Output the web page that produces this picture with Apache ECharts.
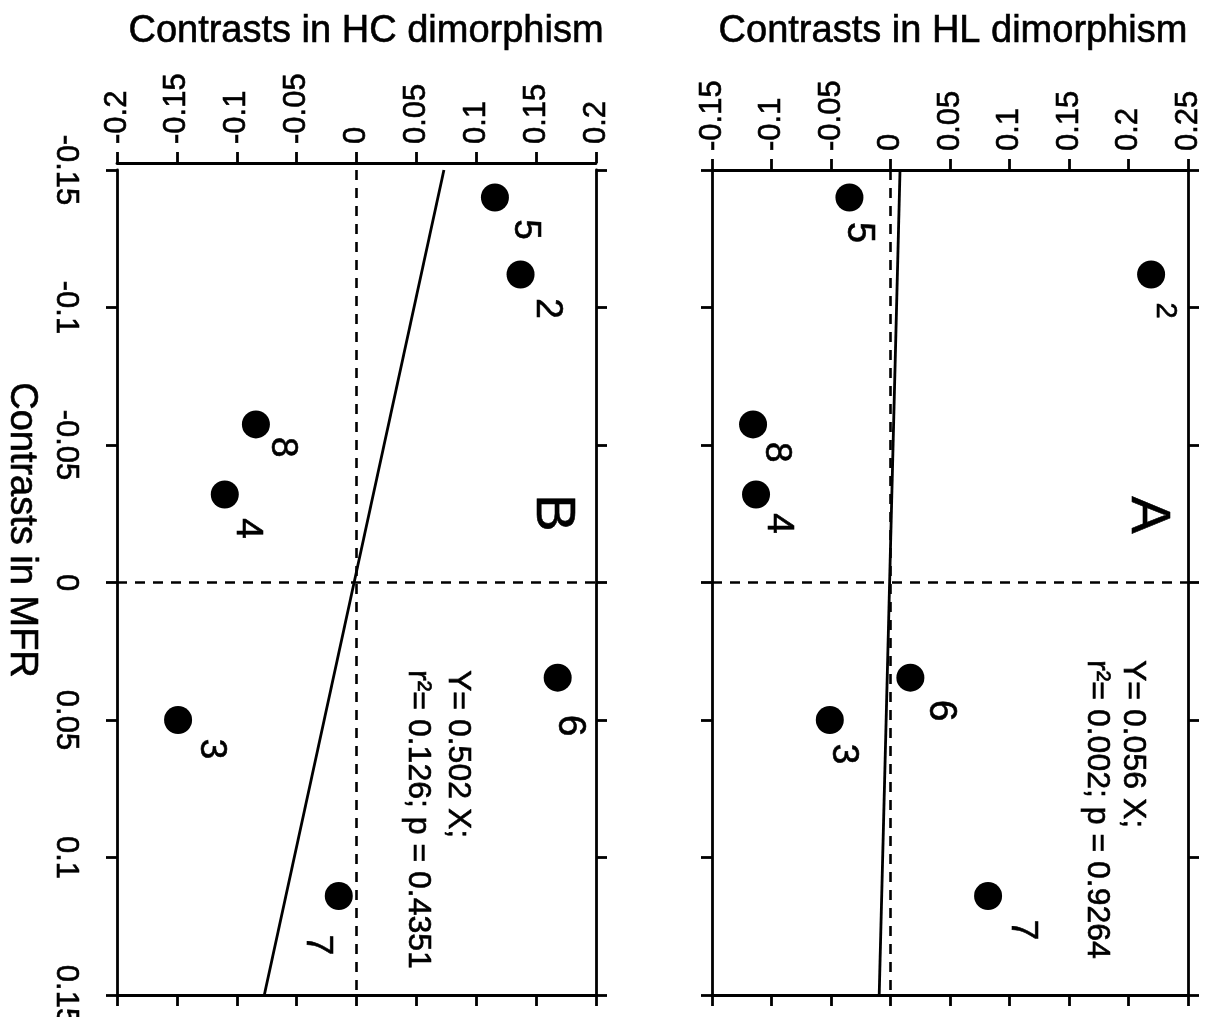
<!DOCTYPE html>
<html><head><meta charset="utf-8">
<script src="https://cdn.jsdelivr.net/npm/echarts@6/dist/echarts.min.js"></script>
<style>html,body{margin:0;padding:0;background:#fff}#c{width:1215px;height:1017px}</style>
</head><body><div id="c"></div>
<script>
// ---- data ----
const speciesLabels = ['2', '3', '4', '5', '6', '7', '8'];
const mfrContrast  = [-0.112, 0.050, -0.032, -0.140, 0.0346, 0.114, -0.0575];
const hlContrast   = [0.219, -0.051, -0.113, -0.0345, 0.0167, 0.082, -0.1155];
const hcContrast   = [0.137, -0.149, -0.110, 0.1156, 0.168, -0.0148, -0.084];
// regression lines, end points
const fitMfr = [-0.15, 0.15];
const fitHl  = [0.008, -0.0095];
const fitHc  = [0.073, -0.077];
const mfrTicks = [-0.15, -0.1, -0.05, 0, 0.05, 0.1, 0.15];
const hlTicks  = [-0.15, -0.1, -0.05, 0, 0.05, 0.1, 0.15, 0.2, 0.25];
const hcTicks  = [-0.2, -0.15, -0.1, -0.05, 0, 0.05, 0.1, 0.15, 0.2];
const statsA = ['Y= 0.056 X;', 'r\u00b2= 0.002; p = 0.9264'];
const statsB = ['Y= 0.502 X;', 'r\u00b2= 0.126; p = 0.4351'];

// ---- styles (screen offsets of the number labels, px right / px down) ----
const labelShiftA = [[14, 36], [13, 34], [22, 29], [9, 35], [30, 33], [34, 34], [23, 28]];
const labelShiftB = [[27, 34], [33, 29], [22, 34], [30, 32], [12, 48], [-22, 49], [26, 23]];
const labelSizeA  = [29, 37, 37, 38, 39, 37, 37];
const labelSizeB  = [37, 37, 37, 37, 39, 37, 37];

const FONT = '"Liberation Sans", Arial, Helvetica, sans-serif';
const INK = '#000';
const THICK = { textBorderColor: INK, textBorderWidth: 0.6 };

function points(dim, shifts, sizes) {
  return speciesLabels.map((s, i) => ({
    name: s,
    value: [dim[i], mfrContrast[i]],
    label: {
      // label rotated 90deg clockwise: local offset [along text, across text]
      offset: [shifts[i][1], -shifts[i][0]],
      fontSize: sizes[i]
    }
  }));
}
function fitLine(dim) {
  return fitMfr.map((m, i) => [dim[i], m]);
}

const tickStyle = { show: true, inside: false, length: 11, lineStyle: { color: INK, width: 2.8 } };
const lineStyle = { show: true, onZero: false, lineStyle: { color: INK, width: 2.8 } };
const labelStyle = Object.assign({ color: INK, fontSize: 31, fontFamily: FONT, rotate: -90 }, THICK);

function hAxis(grid, pos, min, max, show, offset) {
  return {
    type: 'value', gridIndex: grid, position: pos, min: min, max: max, interval: 0.05,
    offset: offset || 0,
    axisLine: lineStyle, axisTick: tickStyle, splitLine: { show: false },
    axisLabel: Object.assign({ show: show, margin: 19 }, labelStyle)
  };
}
function vAxis(grid, pos, show) {
  return {
    type: 'value', gridIndex: grid, position: pos, inverse: true,
    min: mfrTicks[0], max: mfrTicks[mfrTicks.length - 1], interval: 0.05,
    axisLine: lineStyle, axisTick: tickStyle, splitLine: { show: false },
    axisLabel: Object.assign({ show: show, margin: 36 }, labelStyle)
  };
}

const zeroLines = {
  symbol: 'none', silent: true, label: { show: false },
  lineStyle: { color: INK, width: 2.6, type: [10, 8], opacity: 1 },
  data: [{ xAxis: 0 }, { yAxis: 0 }]
};

function scatter(xi, yi, dim, shifts, sizes) {
  return {
    type: 'scatter', xAxisIndex: xi, yAxisIndex: yi, z: 5,
    symbol: 'circle', symbolSize: 28,
    itemStyle: { color: INK, opacity: 1 },
    label: Object.assign({
      show: true, position: 'inside', rotate: -90, formatter: '{b}',
      color: INK, fontFamily: FONT, align: 'center', verticalAlign: 'middle'
    }, THICK),
    data: points(dim, shifts, sizes)
  };
}
function fit(xi, yi, dim) {
  return {
    type: 'line', xAxisIndex: xi, yAxisIndex: yi, z: 3,
    showSymbol: false, symbol: 'none',
    lineStyle: { color: INK, width: 2.8, opacity: 1 },
    data: fitLine(dim),
    markLine: zeroLines
  };
}

function textStyle(text, size, align) {
  return Object.assign({ text: text, fill: INK, font: size + 'px ' + FONT, align: align, verticalAlign: 'middle', stroke: INK, lineWidth: 0.6 });
}
function rotText(x, y, text, size, align) {
  return { type: 'text', x: x, y: y, rotation: -Math.PI / 2, style: textStyle(text, size, align) };
}

const chart = echarts.init(document.getElementById('c'), null, { renderer: 'canvas' });
chart.setOption({
  animation: false,
  backgroundColor: '#fff',
  grid: [
    { left: 712, width: 476, top: 170, height: 825, containLabel: false, outerBoundsMode: 'none' },
    { left: 117, width: 479, top: 170, height: 825, containLabel: false, outerBoundsMode: 'none' }
  ],
  xAxis: [
    hAxis(0, 'top', hlTicks[0], hlTicks[hlTicks.length - 1], true),
    hAxis(0, 'bottom', hlTicks[0], hlTicks[hlTicks.length - 1], false),
    hAxis(1, 'top', hcTicks[0], hcTicks[hcTicks.length - 1], true, 7),
    hAxis(1, 'bottom', hcTicks[0], hcTicks[hcTicks.length - 1], false)
  ],
  yAxis: [
    vAxis(0, 'left', false),
    vAxis(0, 'right', false),
    vAxis(1, 'left', true),
    vAxis(1, 'right', false)
  ],
  series: [
    fit(0, 0, fitHl),
    scatter(0, 0, hlContrast, labelShiftA, labelSizeA),
    fit(2, 2, fitHc),
    scatter(2, 2, hcContrast, labelShiftB, labelSizeB)
  ],
  graphic: [
    { type: 'text', x: 953, y: 32, style: textStyle('Contrasts in HL dimorphism', 38, 'center') },
    { type: 'text', x: 366, y: 32, style: textStyle('Contrasts in HC dimorphism', 38, 'center') },
    rotText(21, 530, 'Contrasts in MFR', 38, 'center'),
    rotText(1147, 515, 'A', 56, 'center'),
    rotText(552, 513, 'B', 56, 'center'),
    rotText(1133, 660, statsA[0], 32, 'left'),
    rotText(1097, 660, statsA[1], 32, 'left'),
    rotText(458, 670, statsB[0], 32, 'left'),
    rotText(418, 670, statsB[1], 32, 'left')
  ]
});
</script>
</body></html>
